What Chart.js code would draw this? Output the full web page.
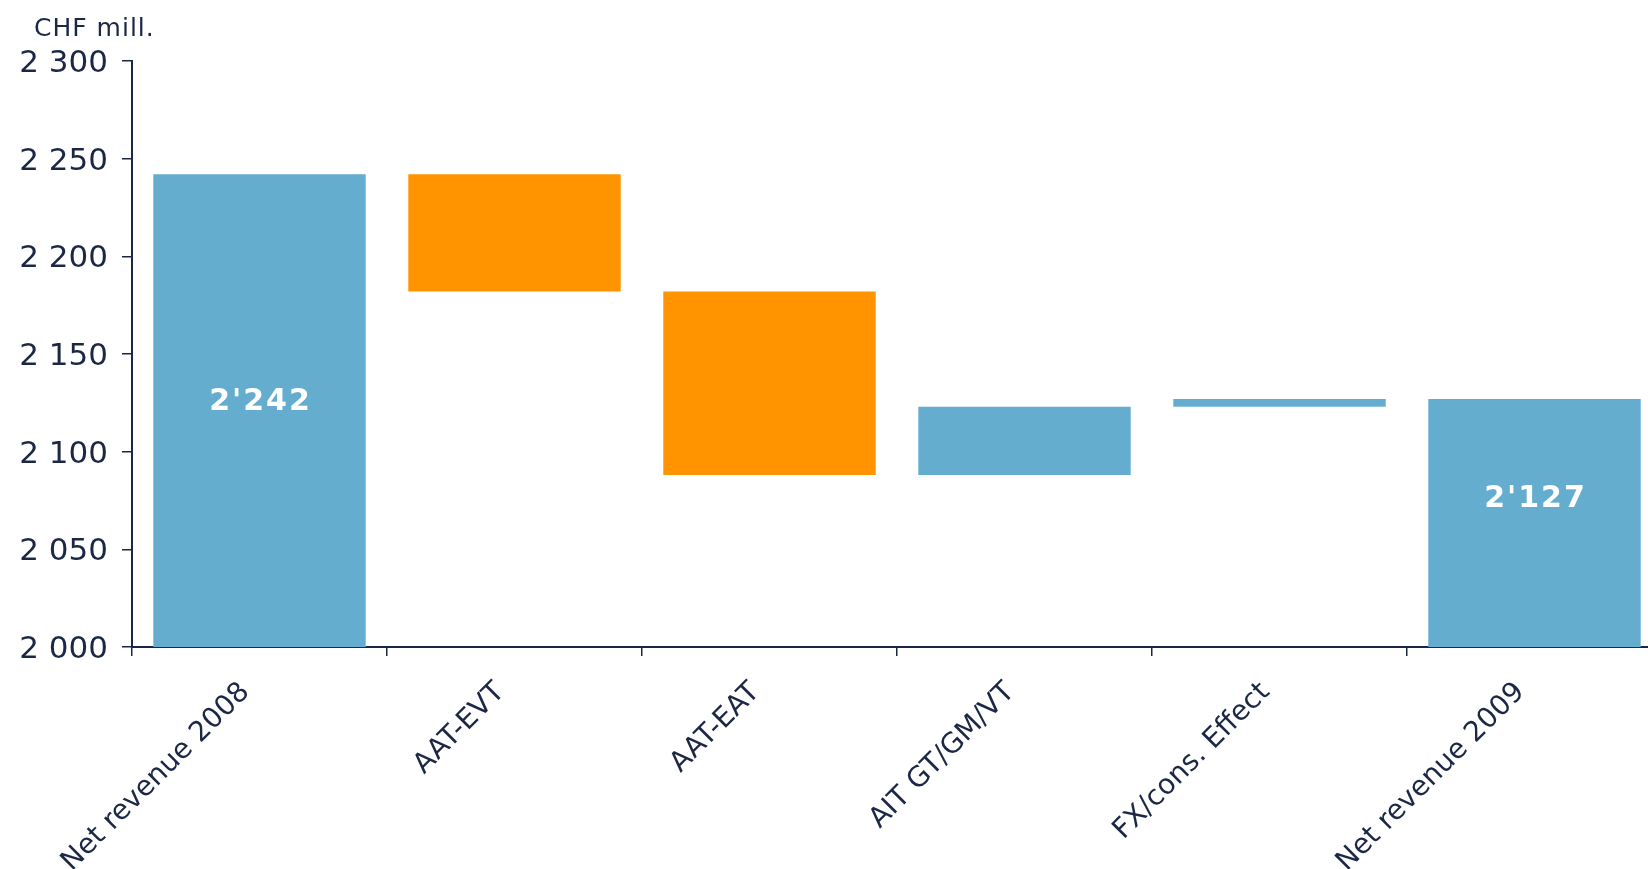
<!DOCTYPE html>
<html>
<head>
<meta charset="utf-8">
<title>Net revenue bridge 2008–2009</title>
<script src="https://cdn.jsdelivr.net/npm/chart.js@4.4.1/dist/chart.umd.min.js"></script>
<style>
  html, body { margin: 0; padding: 0; background: #ffffff; overflow: hidden; }
  #wrap { width: 1648px; height: 869px; overflow: hidden; position: relative; }
  canvas { display: block; }
</style>
</head>
<body>
<div id="wrap"><canvas id="bridge" width="1662" height="869"></canvas></div>
<script>
// Revenue bridge, CHF millions
const categories = ['Net revenue 2008', 'AAT-EVT', 'AAT-EAT', 'AIT GT/GM/VT', 'FX/cons. Effect', 'Net revenue 2009'];
const openingTotal = 2242;
const changes = [-60, -94, 35, 4];
const closingTotal = 2127;
const yTicks = [2000, 2050, 2100, 2150, 2200, 2250, 2300];
const totalLabels = ["2'242", '', '', '', '', "2'127"];
const unitLabel = 'CHF mill.';

const AXIS_MIN = yTicks[0];
const AXIS_MAX = yTicks[yTicks.length - 1];
const BLUE = '#65adcf';
const ORANGE = '#ff9400';
const INK = '#1b2744';

// Build floating [low, high] segments for the waterfall
const segments = [[AXIS_MIN, openingTotal]];
const colors = [BLUE];
let running = openingTotal;
for (const c of changes) {
  const next = running + c;
  segments.push([Math.min(running, next), Math.max(running, next)]);
  colors.push(c < 0 ? ORANGE : BLUE);
  running = next;
}
segments.push([AXIS_MIN, closingTotal]);
colors.push(BLUE);

const fmt = v => String(v).replace(/\B(?=(\d{3})+(?!\d))/g, ' ');

// White value labels inside the total bars
const totalLabelPlugin = {
  id: 'totalLabels',
  afterDatasetsDraw(chart, args, opts) {
    const ctx = chart.ctx;
    const meta = chart.getDatasetMeta(0);
    ctx.save();
    ctx.fillStyle = '#ffffff';
    ctx.font = 'bold 30px "DejaVu Sans", sans-serif';
    ctx.letterSpacing = '2px';
    ctx.textAlign = 'center';
    ctx.textBaseline = 'middle';
    meta.data.forEach((bar, i) => {
      const txt = totalLabels[i];
      if (!txt) return;
      const cy = (bar.y + bar.base) / 2 + (opts.offsets[i] || 0);
      ctx.fillText(txt, bar.x + 1, cy);
    });
    ctx.restore();
  }
};

// Unit caption above the value axis
const unitPlugin = {
  id: 'unitCaption',
  afterDraw(chart) {
    const ctx = chart.ctx;
    ctx.save();
    ctx.fillStyle = INK;
    ctx.font = '25px "DejaVu Sans", sans-serif';
    ctx.letterSpacing = '1px';
    ctx.textAlign = 'left';
    ctx.textBaseline = 'alphabetic';
    ctx.fillText(unitLabel, 34, 36);
    ctx.restore();
  }
};

new Chart(document.getElementById('bridge'), {
  type: 'bar',
  data: {
    labels: categories,
    datasets: [{
      data: segments,
      backgroundColor: colors,
      borderWidth: 0,
      categoryPercentage: 1.0,
      barPercentage: 0.833
    }]
  },
  options: {
    responsive: false,
    animation: false,
    layout: { padding: { top: 61, right: 0, bottom: 0, left: 0 } },
    plugins: {
      legend: { display: false },
      tooltip: { enabled: false },
      totalLabels: { offsets: [-8, 0, 0, 0, 0, -24] }
    },
    scales: {
      x: {
        offset: true,
        border: { display: true, color: INK, width: 2 },
        grid: {
          offset: true,
          drawOnChartArea: false,
          drawTicks: true,
          tickLength: 9,
          color: INK,
          lineWidth: 1.5
        },
        ticks: {
          color: INK,
          font: { family: '"DejaVu Sans", sans-serif', size: 28 },
          minRotation: 45,
          maxRotation: 45,
          padding: 20,
          labelOffset: -14,
          autoSkip: false
        },
        afterFit(scale) { scale.height = 222; }
      },
      y: {
        min: AXIS_MIN,
        max: AXIS_MAX,
        border: { display: true, color: INK, width: 2 },
        grid: {
          drawOnChartArea: false,
          drawTicks: true,
          tickLength: 10,
          color: INK,
          lineWidth: 1.5
        },
        afterBuildTicks(scale) { scale.ticks = yTicks.map(v => ({ value: v })); },
        ticks: {
          color: INK,
          font: { family: '"DejaVu Sans", sans-serif', size: 31 },
          padding: 14,
          labelOffset: 3,
          callback: v => fmt(v)
        },
        afterFit(scale) { scale.width = 132; }
      }
    }
  },
  plugins: [totalLabelPlugin, unitPlugin]
});
</script>
</body>
</html>
